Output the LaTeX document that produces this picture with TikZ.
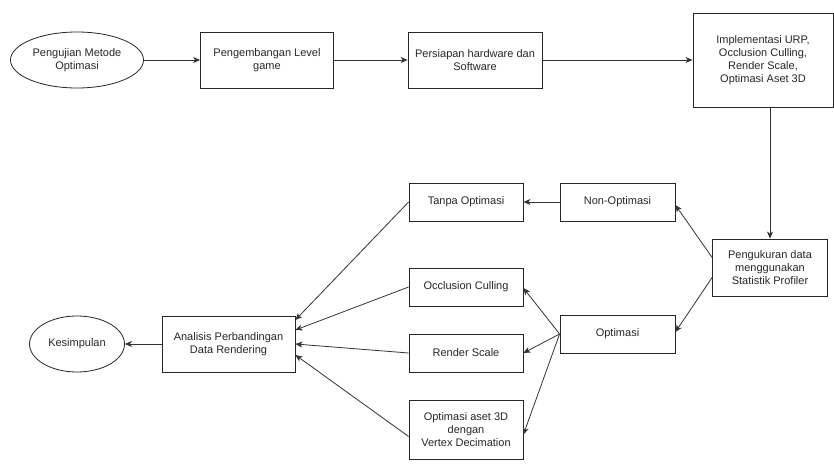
\documentclass[tikz,border=0pt]{standalone}
\usepackage{fontspec}
\setmainfont{Liberation Sans}
\usetikzlibrary{arrows.meta,shapes.geometric}
\begin{document}
\begin{tikzpicture}[x=1pt,y=-1pt,
  every node/.style={font=\fontsize{11}{13}\selectfont, align=center, text=black!85},
  box/.style={draw=black!85, line width=0.8pt, rectangle, inner sep=0pt},
  oval/.style={draw=black!85, line width=0.8pt, ellipse, inner sep=0pt},
  arr/.style={draw=black!80, line width=0.8pt, -{Stealth[length=7pt,width=6pt,inset=2pt]}}]
\useasboundingbox (0,0) rectangle (834,473);
\node[oval, minimum width=133pt, minimum height=56pt] (peng) at (77,60) {Pengujian Metode\\Optimasi};
\node[box, minimum width=133pt, minimum height=56pt] (lev) at (267,60) {Pengembangan Level\\game};
\node[box, minimum width=134pt, minimum height=56pt] (hw) at (475,60) {Persiapan hardware dan\\Software};
\node[box, minimum width=140pt, minimum height=94pt] (imp) at (763,60) {Implementasi URP,\\Occlusion Culling,\\Render Scale,\\Optimasi Aset 3D};
\node[box, minimum width=115pt, minimum height=57pt] (ukur) at (770,267.5) {Pengukuran data\\menggunakan\\Statistik Profiler};
\node[box, minimum width=115pt, minimum height=38pt] (non) at (617.5,202) {Non-Optimasi};
\node[box, minimum width=114pt, minimum height=38pt] (tanpa) at (466,202) {Tanpa Optimasi};
\node[box, minimum width=114pt, minimum height=38pt] (occ) at (466,287) {Occlusion Culling};
\node[box, minimum width=115pt, minimum height=38pt] (opt) at (617.5,334) {Optimasi};
\node[box, minimum width=114pt, minimum height=38pt] (rs) at (466,353) {Render Scale};
\node[box, minimum width=114pt, minimum height=59pt] (aset) at (466,429.5) {Optimasi aset 3D\\dengan\\Vertex Decimation};
\node[box, minimum width=133pt, minimum height=56pt] (ana) at (228.5,344) {Analisis Perbandingan\\Data Rendering};
\node[oval, minimum width=95pt, minimum height=56pt] (kes) at (77,344) {Kesimpulan};

\draw[arr] (peng) -- (lev);
\draw[arr] (lev) -- (hw);
\draw[arr] (hw) -- (imp.west |- hw.east);
\draw[arr] (imp.south -| ukur.north) -- (ukur.north);
\draw[arr] ([yshift=10pt]ukur.west) -- ([yshift=-3pt]non.east);
\draw[arr] ([yshift=-10pt]ukur.west) -- ([yshift=2pt]opt.east);
\draw[arr] (non) -- (tanpa);
\draw[arr] (opt.west) -- ([yshift=-1pt]occ.east);
\draw[arr] (opt.west) -- (rs.east);
\draw[arr] (opt.west) -- ([yshift=-5pt]aset.east);
\draw[arr] (tanpa.west) -- ([yshift=24pt]ana.east);
\draw[arr] (occ.west) -- ([yshift=14pt]ana.east);
\draw[arr] (rs.west) -- (ana.east);
\draw[arr] ([yshift=-7pt]aset.west) -- ([yshift=-11pt]ana.east);
\draw[arr] (ana) -- (kes);
\end{tikzpicture}
\end{document}
